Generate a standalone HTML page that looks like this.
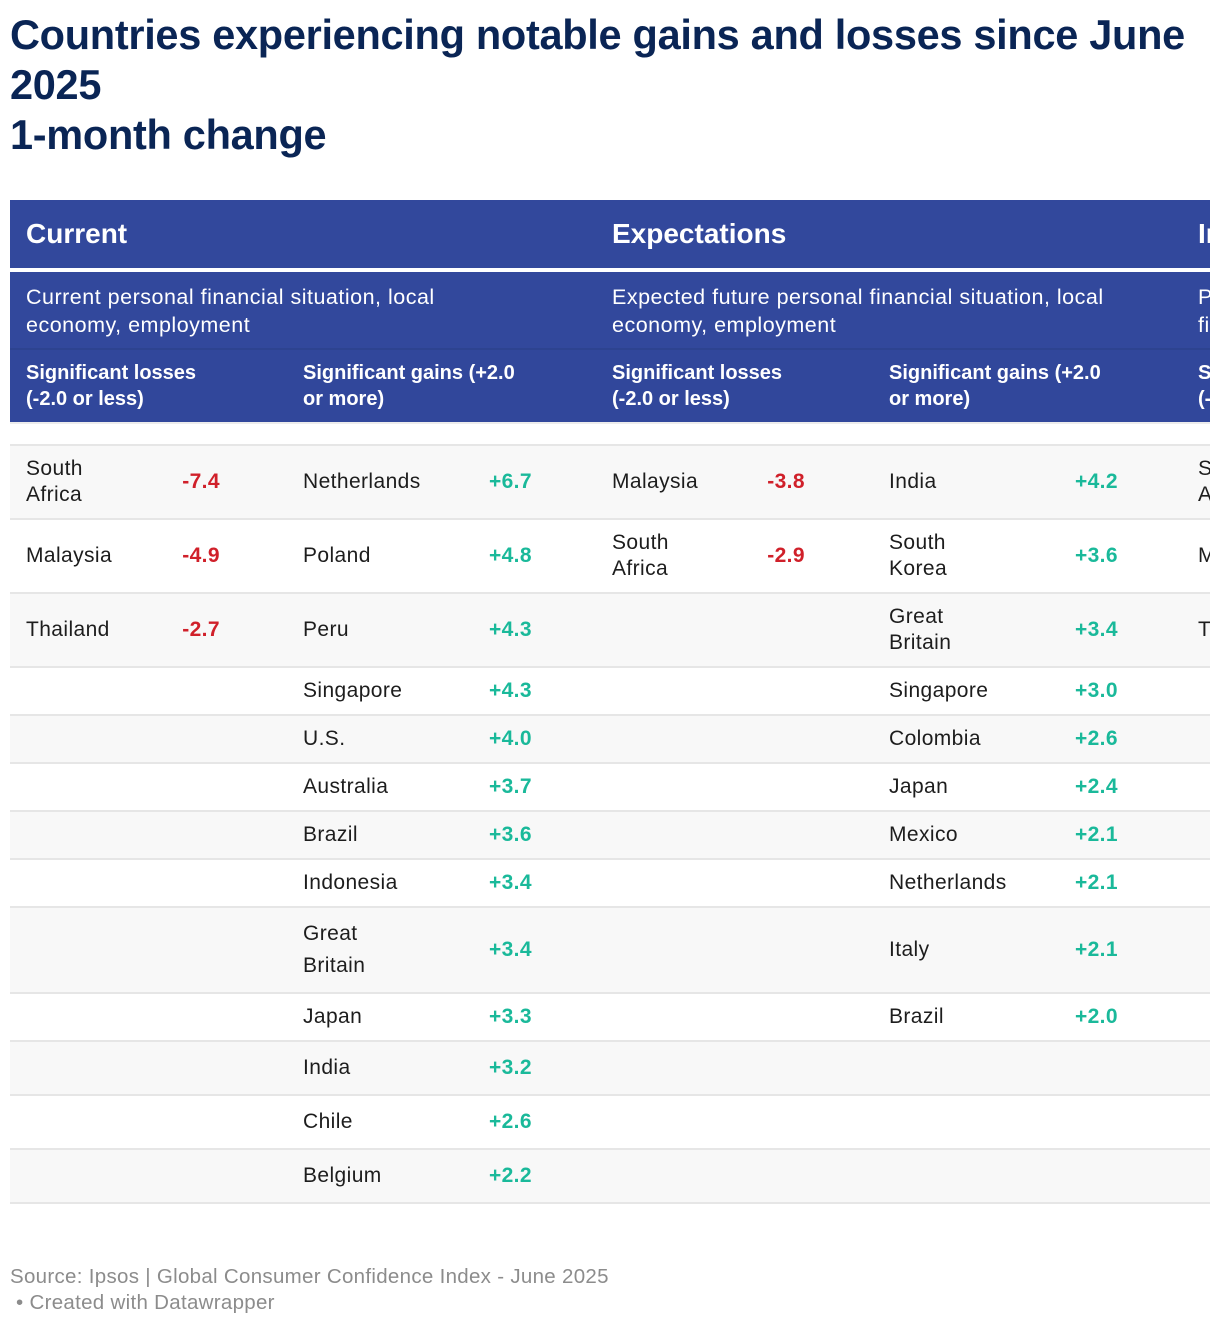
<!DOCTYPE html>
<html><head><meta charset="utf-8">
<style>
body{margin:0;width:1220px;height:1326px;background:#fff;font-family:"Liberation Sans",sans-serif;position:relative;overflow:hidden;color:#1d1d1d}
.abs{position:absolute}
#title{left:10px;top:10px;font-size:41.5px;font-weight:bold;line-height:50px;color:#0a2555;white-space:nowrap;letter-spacing:-0.3px}
#wrap{position:absolute;left:10px;top:200px;width:1200px;height:1010px;overflow:hidden}
.band{position:absolute;left:0;width:1200px;background:#32489c}
.gh{position:absolute;top:18px;font-size:28px;font-weight:bold;color:#fff;white-space:nowrap}
.sub{position:absolute;top:83px;font-size:21.5px;line-height:28px;color:#fff;white-space:nowrap;letter-spacing:0.5px}
.ch{position:absolute;top:160px;font-size:20px;font-weight:bold;line-height:26px;color:#fff;white-space:nowrap}
.row{position:absolute;left:0;width:1200px;border-top:2px solid #e6e6e6;box-sizing:border-box}
.cell{position:absolute;top:0;bottom:0;display:flex;align-items:center;font-size:21px;line-height:26px;white-space:pre-line;letter-spacing:0.4px}
.v{font-weight:bold;justify-content:flex-end;font-size:21px}
.neg{color:#d0202a}.pos{color:#1ab99a}
#foot{left:10px;top:1264px;font-size:20.5px;line-height:26px;color:#8c8c8c;letter-spacing:0.3px}
</style></head><body>
<div id="title" class="abs">Countries experiencing notable gains and losses since June<br>2025<br>1-month change</div>
<div id="wrap">
  <div class="band" style="top:0;height:68px"></div>
  <div class="band" style="top:72px;height:76px"></div>
  <div class="band" style="top:148px;height:74px;background:#31479b;border-top:2px solid #2d4390"></div>
  <div style="position:absolute;top:222px;left:0;width:1200px;height:2px;background:#ececec"></div>
  <div class="gh" style="left:16px">Current</div>
  <div class="gh" style="left:602px">Expectations</div>
  <div class="gh" style="left:1188px">Investment</div>
  <div class="sub" style="left:16px">Current personal financial situation, local<br>economy, employment</div>
  <div class="sub" style="left:602px">Expected future personal financial situation, local<br>economy, employment</div>
  <div class="sub" style="left:1188px">Purchasing<br>financial</div>
  <div class="ch" style="left:16px">Significant losses<br>(-2.0 or less)</div>
  <div class="ch" style="left:293px">Significant gains (+2.0<br>or more)</div>
  <div class="ch" style="left:602px">Significant losses<br>(-2.0 or less)</div>
  <div class="ch" style="left:879px">Significant gains (+2.0<br>or more)</div>
  <div class="ch" style="left:1188px">Significant<br>(-2.0 or less)</div>
  <div id="rows"></div>
</div>
<div id="foot" class="abs">Source: Ipsos | Global Consumer Confidence Index - June 2025<br>&nbsp;• Created with Datawrapper</div>
<script>
const curLossNames=["South\nAfrica","Malaysia","Thailand"];
const curLossValues=[-7.4,-4.9,-2.7];
const curGainNames=["Netherlands","Poland","Peru","Singapore","U.S.","Australia","Brazil","Indonesia","Great\nBritain","Japan","India","Chile","Belgium"];
const curGainValues=[6.7,4.8,4.3,4.3,4.0,3.7,3.6,3.4,3.4,3.3,3.2,2.6,2.2];
const expLossNames=["Malaysia","South\nAfrica"];
const expLossValues=[-3.8,-2.9];
const expGainNames=["India","South\nKorea","Great\nBritain","Singapore","Colombia","Japan","Mexico","Netherlands","Italy","Brazil"];
const expGainValues=[4.2,3.6,3.4,3.0,2.6,2.4,2.1,2.1,2.1,2.0];
const invLossNames=["South\nAfrica","Malaysia","Thailand"];
const rowHeights=[74,74,74,48,48,48,48,48,86,48,54,54,54];
function fmt(v){return (v>0?"+":"")+v.toFixed(1);}
const rowsEl=document.getElementById('rows');
let y=244;
const groups=[
 {names:curLossNames,vals:curLossValues,nx:16,vr:210,key:'current-loss'},
 {names:curGainNames,vals:curGainValues,nx:293,vr:522,key:'current-gain'},
 {names:expLossNames,vals:expLossValues,nx:602,vr:795,key:'expectations-loss'},
 {names:expGainNames,vals:expGainValues,nx:879,vr:1108,key:'expectations-gain'},
 {names:invLossNames,vals:[],nx:1188,vr:null,key:'investment-loss'}
];
for(let i=0;i<rowHeights.length;i++){
  const r=document.createElement('div');
  
  
  r.className='row';
  r.style.top=y+'px';r.style.height=rowHeights[i]+'px';
  r.style.background=(i%2===0)?'#f8f8f8':'#fff';
  groups.forEach(g=>{
    if(i<g.names.length){
      const n=document.createElement('div');
      
      
      n.className='cell';n.style.left=g.nx+'px';n.textContent=g.names[i];
      if(i===8) n.style.lineHeight='32px';
      r.appendChild(n);
      if(g.vr!==null && i<g.vals.length){
        const v=document.createElement('div');
        
        
        v.className='cell v '+(g.vals[i]<0?'neg':'pos');
        v.style.right=(1200-g.vr)+'px';v.textContent=fmt(g.vals[i]);
        r.appendChild(v);
      }
    }
  });
  rowsEl.appendChild(r);
  y+=rowHeights[i];
}
const last=document.createElement('div');


last.style.cssText='position:absolute;left:0;width:1200px;height:2px;background:#e6e6e6;top:'+y+'px';
rowsEl.appendChild(last);
</script>
</body></html>
